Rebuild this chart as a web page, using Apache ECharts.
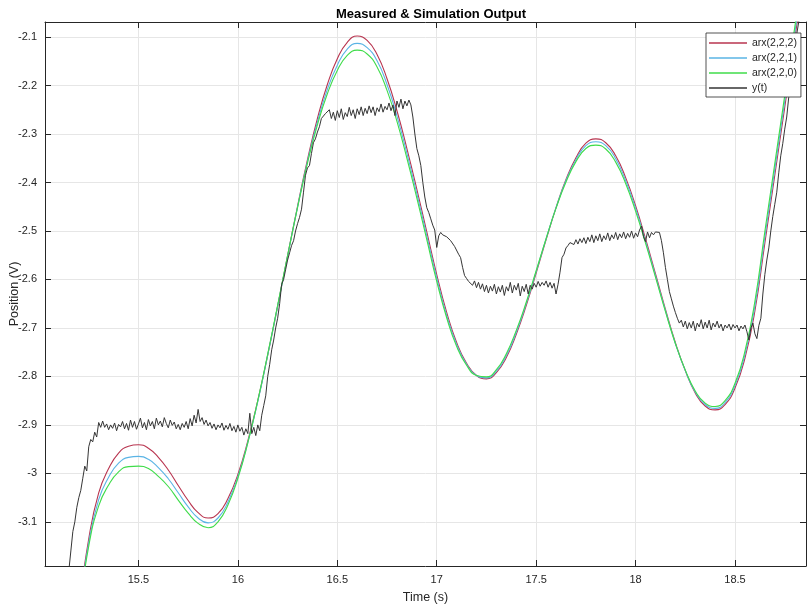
<!DOCTYPE html>
<html>
<head>
<meta charset="utf-8">
<title>Measured & Simulation Output</title>
<script src="https://cdn.jsdelivr.net/npm/echarts@6/dist/echarts.min.js"></script>
<style>
    html, body { margin: 0; padding: 0; background: #fff; }
    #chart { width: 807px; height: 611px; }
</style>
</head>
<body>
<div id="chart"></div>
<script>
// 仿真输出 vs 实测输出

const seriesNames = ['arx(2,2,2)', 'arx(2,2,1)', 'arx(2,2,0)', 'y(t)'];
const xTicks = [15.5, 16, 16.5, 17, 17.5, 18, 18.5];
const yTicks = [-3.1, -3, -2.9, -2.8, -2.7, -2.6, -2.5, -2.4, -2.3, -2.2, -2.1];

// simulation time (s)
const simT = [
    15.20, 15.25, 15.30, 15.35, 15.40, 15.45, 15.50, 15.55, 15.60, 15.65,
    15.70, 15.75, 15.80, 15.85, 15.90, 15.95, 16.00, 16.05, 16.10, 16.15,
    16.20, 16.25, 16.30, 16.35, 16.40, 16.45, 16.50, 16.55, 16.60, 16.65,
    16.70, 16.75, 16.80, 16.85, 16.90, 16.95, 17.00, 17.05, 17.10, 17.15,
    17.20, 17.25, 17.30, 17.35, 17.40, 17.45, 17.50, 17.55, 17.60, 17.65,
    17.70, 17.75, 17.80, 17.85, 17.90, 17.95, 18.00, 18.05, 18.10, 18.15,
    18.20, 18.25, 18.30, 18.35, 18.40, 18.45, 18.50, 18.55, 18.60, 18.65,
    18.70, 18.75, 18.80, 18.85
];
const arx222 = [
    -3.28, -3.135, -3.040, -2.990, -2.958, -2.944, -2.941, -2.948, -2.967, -2.993,
    -3.025, -3.056, -3.081, -3.092, -3.083, -3.052, -3.002, -2.933, -2.850, -2.756,
    -2.655, -2.551, -2.449, -2.353, -2.268, -2.198, -2.145, -2.111, -2.098, -2.107,
    -2.136, -2.186, -2.252, -2.330, -2.414, -2.502, -2.590, -2.668, -2.730, -2.773,
    -2.798, -2.805, -2.792, -2.761, -2.713, -2.654, -2.587, -2.518, -2.452, -2.394,
    -2.349, -2.319, -2.310, -2.318, -2.345, -2.390, -2.448, -2.516, -2.588, -2.661,
    -2.730, -2.788, -2.834, -2.861, -2.869, -2.858, -2.824, -2.762, -2.665, -2.525,
    -2.385, -2.245, -2.105, -1.965
];
const arx221 = [
    -3.285, -3.143, -3.054, -3.008, -2.979, -2.967, -2.965, -2.971, -2.988, -3.011,
    -3.040, -3.069, -3.092, -3.102, -3.092, -3.059, -3.007, -2.936, -2.852, -2.756,
    -2.655, -2.552, -2.451, -2.357, -2.275, -2.208, -2.158, -2.125, -2.113, -2.122,
    -2.149, -2.198, -2.263, -2.340, -2.423, -2.510, -2.597, -2.674, -2.734, -2.775,
    -2.798, -2.803, -2.789, -2.757, -2.709, -2.650, -2.584, -2.516, -2.452, -2.396,
    -2.353, -2.324, -2.316, -2.324, -2.351, -2.396, -2.453, -2.521, -2.592, -2.664,
    -2.732, -2.788, -2.832, -2.858, -2.866, -2.854, -2.819, -2.755, -2.655, -2.513,
    -2.373, -2.233, -2.093, -1.953
];
const arx220 = [
    -3.29, -3.150, -3.067, -3.024, -2.997, -2.986, -2.985, -2.990, -3.006, -3.027,
    -3.055, -3.082, -3.103, -3.112, -3.100, -3.065, -3.010, -2.937, -2.850, -2.754,
    -2.653, -2.551, -2.452, -2.360, -2.281, -2.217, -2.169, -2.138, -2.127, -2.135,
    -2.162, -2.210, -2.274, -2.350, -2.432, -2.518, -2.604, -2.679, -2.738, -2.777,
    -2.798, -2.801, -2.786, -2.753, -2.705, -2.647, -2.582, -2.516, -2.453, -2.399,
    -2.357, -2.330, -2.323, -2.331, -2.358, -2.402, -2.459, -2.525, -2.595, -2.666,
    -2.732, -2.787, -2.830, -2.855, -2.862, -2.850, -2.814, -2.748, -2.645, -2.501,
    -2.361, -2.221, -2.081, -1.941
];

// measured output, sampled every 0.01 s from 15.15 s
const measStart = 15.15;
const measStep = 0.01;
const measY = [
    -3.20, -3.16, -3.12, -3.10, -3.07, -3.05, -3.035, -3.01, -2.985, -2.995,      // 15.15
    -2.945, -2.93, -2.935, -2.915, -2.925, -2.895, -2.905, -2.892, -2.905, -2.898, // 15.25
    -2.910, -2.900, -2.907, -2.896, -2.912, -2.899, -2.904, -2.893, -2.908, -2.897, // 15.35
    -2.911, -2.890, -2.905, -2.893, -2.909, -2.898, -2.886, -2.906, -2.895, -2.910, // 15.45
    -2.889, -2.902, -2.893, -2.908, -2.886, -2.900, -2.892, -2.904, -2.885, -2.897, // 15.55
    -2.906, -2.890, -2.901, -2.894, -2.908, -2.899, -2.910, -2.897, -2.905, -2.893, // 15.65
    -2.908, -2.887, -2.902, -2.880, -2.896, -2.868, -2.893, -2.885, -2.899, -2.890, // 15.75
    -2.902, -2.895, -2.907, -2.898, -2.910, -2.900, -2.906, -2.896, -2.911, -2.901, // 15.85
    -2.909, -2.897, -2.912, -2.903, -2.915, -2.900, -2.913, -2.905, -2.921, -2.908, // 15.95
    -2.918, -2.876, -2.918, -2.905, -2.922, -2.900, -2.912, -2.880, -2.860, -2.840, // 16.05
    -2.800, -2.775, -2.745, -2.725, -2.700, -2.680, -2.650, -2.610, -2.600, -2.580, // 16.15
    -2.560, -2.545, -2.530, -2.520, -2.500, -2.485, -2.472, -2.455, -2.420, -2.385, // 16.25
    -2.370, -2.365, -2.340, -2.318, -2.310, -2.296, -2.285, -2.268, -2.270, -2.258, // 16.35
    -2.262, -2.250, -2.268, -2.255, -2.272, -2.252, -2.266, -2.248, -2.270, -2.256, // 16.45
    -2.264, -2.245, -2.262, -2.250, -2.268, -2.248, -2.260, -2.244, -2.262, -2.247, // 16.55
    -2.258, -2.242, -2.256, -2.244, -2.262, -2.246, -2.254, -2.238, -2.255, -2.243, // 16.65
    -2.250, -2.236, -2.252, -2.240, -2.262, -2.232, -2.245, -2.228, -2.248, -2.232, // 16.75
    -2.242, -2.230, -2.240, -2.265, -2.300, -2.330, -2.345, -2.365, -2.400, -2.430, // 16.85
    -2.452, -2.462, -2.475, -2.488, -2.498, -2.534, -2.510, -2.503, -2.508, -2.505, // 16.95
    -2.512, -2.508, -2.520, -2.518, -2.532, -2.530, -2.548, -2.555, -2.575, -2.592, // 17.05
    -2.598, -2.604, -2.600, -2.612, -2.603, -2.617, -2.606, -2.620, -2.609, -2.625, // 17.15
    -2.612, -2.628, -2.614, -2.624, -2.610, -2.630, -2.615, -2.626, -2.612, -2.633, // 17.25
    -2.615, -2.624, -2.606, -2.628, -2.612, -2.622, -2.608, -2.634, -2.614, -2.625, // 17.35
    -2.610, -2.630, -2.612, -2.620, -2.608, -2.616, -2.604, -2.614, -2.606, -2.612, // 17.45
    -2.603, -2.616, -2.606, -2.618, -2.608, -2.630, -2.610, -2.585, -2.555, -2.548, // 17.55
    -2.535, -2.530, -2.524, -2.520, -2.528, -2.518, -2.527, -2.516, -2.524, -2.514, // 17.65
    -2.526, -2.513, -2.522, -2.508, -2.524, -2.510, -2.520, -2.506, -2.522, -2.510, // 17.75
    -2.518, -2.504, -2.520, -2.508, -2.516, -2.503, -2.518, -2.506, -2.514, -2.502, // 17.85
    -2.516, -2.505, -2.513, -2.500, -2.515, -2.504, -2.512, -2.498, -2.490, -2.512, // 17.95
    -2.522, -2.502, -2.514, -2.503, -2.508, -2.502, -2.506, -2.503, -2.520, -2.545, // 18.05
    -2.575, -2.600, -2.625, -2.640, -2.655, -2.668, -2.680, -2.690, -2.684, -2.698, // 18.15
    -2.686, -2.702, -2.689, -2.700, -2.686, -2.706, -2.690, -2.698, -2.683, -2.702, // 18.25
    -2.688, -2.700, -2.684, -2.704, -2.690, -2.698, -2.686, -2.700, -2.692, -2.706, // 18.35
    -2.694, -2.700, -2.692, -2.704, -2.693, -2.700, -2.694, -2.706, -2.696, -2.702, // 18.45
    -2.694, -2.708, -2.725, -2.700, -2.690, -2.712, -2.722, -2.695, -2.680, -2.630, // 18.55
    -2.590, -2.560, -2.535, -2.500, -2.470, -2.445, -2.420, -2.380, -2.345, -2.320, // 18.65
    -2.290, -2.265, -2.225, -2.185, -2.150, -2.125, -2.095, -2.070, -2.045          // 18.75
];

const FONT = '"Liberation Sans", Arial, Helvetica, sans-serif';
const AXIS_COLOR = '#262626';
const GRID_COLOR = '#e6e6e6';

let MeasuredChart = {
    init(divId) {
        this.chartDiv = document.getElementById(divId);
        this.chart = echarts.init(this.chartDiv, null, { renderer: 'canvas' });
        this.initChartOption();
        this.showChart();
    },
    pairs(xs, ys) {
        return ys.map((v, i) => [xs[i], v]);
    },
    measPairs() {
        return measY.map((v, i) => [+(measStart + i * measStep).toFixed(2), v]);
    },
    boxAxis(type, position, min, max, ticks, main) {
        let axis = {
            type: 'value',
            position: position,
            min: min,
            max: max,
            axisLine: { show: true, onZero: false, lineStyle: { color: AXIS_COLOR, width: 1 } },
            axisTick: { show: true, inside: true, length: 6, customValues: ticks, lineStyle: { color: AXIS_COLOR, width: 1 } },
            axisLabel: { show: main, customValues: ticks, margin: 8, fontSize: 11, color: AXIS_COLOR, fontFamily: FONT },
            splitLine: { show: main, lineStyle: { color: GRID_COLOR, width: 1 } }
        };
        if (main) {
            axis.name = type === 'x' ? 'Time (s)' : 'Position (V)';
            axis.nameLocation = 'middle';
            axis.nameGap = type === 'x' ? 25 : 24;
            axis.nameMoveOverlap = false;
            axis.nameTextStyle = { fontSize: 12.5, color: AXIS_COLOR, fontFamily: FONT };
        }
        return axis;
    },
    initChartOption() {
        const xMin = 15.03, xMax = 18.857;
        const yMin = -3.191, yMax = -2.069;
        this.option = {
            animation: false,
            backgroundColor: '#fff',
            title: {
                text: 'Measured & Simulation Output',
                left: 426,
                top: 3,
                textAlign: 'center',
                textStyle: { fontSize: 13, fontWeight: 'bold', color: '#000', fontFamily: FONT }
            },
            legend: {
                data: seriesNames,
                orient: 'vertical',
                left: 706,
                top: 33,
                icon: 'rect',
                itemWidth: 38,
                itemHeight: 1.3,
                itemGap: 3,
                padding: [4, 4, 3, 3],
                backgroundColor: '#fff',
                borderColor: AXIS_COLOR,
                borderWidth: 0.8,
                textStyle: { fontSize: 10.5, color: AXIS_COLOR, fontFamily: FONT, lineHeight: 12 }
            },
            grid: { left: 45, right: 1, top: 22, bottom: 45, containLabel: false, outerBoundsMode: 'none' },
            xAxis: [
                this.boxAxis('x', 'bottom', xMin, xMax, xTicks, true),
                this.boxAxis('x', 'top', xMin, xMax, xTicks, false)
            ],
            yAxis: [
                this.boxAxis('y', 'left', yMin, yMax, yTicks, true),
                this.boxAxis('y', 'right', yMin, yMax, yTicks, false)
            ],
            series: [
                {
                    name: seriesNames[0], type: 'line', symbol: 'none', smooth: true,
                    data: this.pairs(simT, arx222),
                    lineStyle: { color: '#b8344f', width: 1.1 }, itemStyle: { color: '#b8344f' }
                },
                {
                    name: seriesNames[1], type: 'line', symbol: 'none', smooth: true,
                    data: this.pairs(simT, arx221),
                    lineStyle: { color: '#5ab4e5', width: 1.1 }, itemStyle: { color: '#5ab4e5' }
                },
                {
                    name: seriesNames[2], type: 'line', symbol: 'none', smooth: true,
                    data: this.pairs(simT, arx220),
                    lineStyle: { color: '#3fdc4a', width: 1.1 }, itemStyle: { color: '#3fdc4a' }
                },
                {
                    name: seriesNames[3], type: 'line', symbol: 'none',
                    data: this.measPairs(),
                    lineStyle: { color: '#353535', width: 1 }, itemStyle: { color: '#353535' }
                }
            ]
        };
    },
    showChart() {
        this.chart.setOption(this.option, true);
    }
};

MeasuredChart.init('chart');
</script>
</body>
</html>
